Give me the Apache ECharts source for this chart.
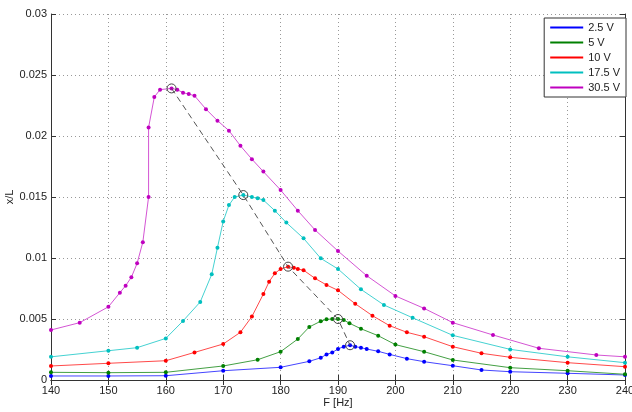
<!DOCTYPE html>
<html>
<head>
<meta charset="utf-8">
<script src="https://cdn.jsdelivr.net/npm/echarts@6/dist/echarts.min.js"></script>
<style>html,body{margin:0;padding:0;background:#fff;}#c{width:632px;height:412px;}</style>
</head>
<body>
<div id="c"></div>
<script>
var xTicks = [140, 150, 160, 170, 180, 190, 200, 210, 220, 230, 240];
var yTicks = [0, 0.005, 0.01, 0.015, 0.02, 0.025, 0.03];
var seriesNames = ['2.5 V', '5 V', '10 V', '17.5 V', '30.5 V'];

var f25 = [140, 150, 160, 170, 180, 185, 187, 188, 189, 190, 191, 192.1, 193, 194, 195, 197, 199, 202, 205, 210, 215, 220, 230, 240];
var v25 = [0.00033, 0.00033, 0.00035, 0.00076, 0.00104, 0.00153, 0.00182, 0.0021, 0.00225, 0.00255, 0.00273, 0.00285, 0.00273, 0.00265, 0.00254, 0.00235, 0.0021, 0.00175, 0.0015, 0.00117, 0.00082, 0.00068, 0.00055, 0.00041];

var f5 = [140, 150, 160, 170, 176, 180, 183, 185, 187, 188, 189, 190, 191, 192, 194, 197, 200, 205, 210, 220, 230, 240];
var v5 = [0.00063, 0.0006, 0.00063, 0.00115, 0.00166, 0.00232, 0.00336, 0.00435, 0.00482, 0.00497, 0.005, 0.005, 0.00492, 0.00465, 0.0042, 0.00363, 0.0029, 0.00232, 0.00164, 0.00101, 0.00076, 0.00047];

var f10 = [140, 150, 160, 165, 170, 173, 175, 177, 178, 179, 180, 181.3, 182.3, 183, 184, 186, 188, 190, 193, 196, 199, 202, 205, 210, 215, 220, 230, 240];
var v10 = [0.00115, 0.00137, 0.00158, 0.00226, 0.00295, 0.00391, 0.0052, 0.00705, 0.00806, 0.00874, 0.0091, 0.00929, 0.0092, 0.0091, 0.009, 0.00833, 0.00779, 0.00735, 0.00625, 0.00527, 0.00445, 0.00391, 0.00355, 0.00273, 0.00219, 0.00186, 0.00142, 0.00109];

var f175 = [140, 150, 155, 160, 163, 166, 168, 169, 170, 171, 172, 173.5, 175, 176, 177, 179, 181, 184, 187, 190, 194, 198, 203, 210, 220, 230, 240];
var v175 = [0.0019, 0.0024, 0.00265, 0.00341, 0.00484, 0.0064, 0.00866, 0.01085, 0.013, 0.01434, 0.015, 0.01516, 0.015, 0.01489, 0.01475, 0.01388, 0.0129, 0.01161, 0.00997, 0.0091, 0.00743, 0.00615, 0.0051, 0.00366, 0.00251, 0.0019, 0.00142];

var f305 = [140, 145, 150, 152, 153, 154, 155, 156, 157, 157, 158, 159, 161, 162, 163, 164, 165, 167, 169, 171, 173, 175, 177, 180, 183, 186, 190, 195, 200, 205, 210, 217, 225, 235, 240];
var v305 = [0.0041, 0.0047, 0.006, 0.00716, 0.00773, 0.00842, 0.00956, 0.0113, 0.015, 0.0207, 0.0232, 0.0238, 0.0239, 0.0238, 0.02355, 0.02344, 0.0233, 0.0222, 0.02126, 0.02044, 0.0192, 0.0181, 0.01708, 0.01557, 0.01388, 0.0123, 0.01057, 0.00855, 0.00689, 0.00587, 0.0047, 0.00369, 0.0026, 0.00205, 0.0019];

var peakF = [161, 173.5, 181.3, 190, 192.1];
var peakV = [0.0239, 0.01516, 0.00929, 0.005, 0.00285];

function zip(a, b) { return a.map(function (x, i) { return [x, b[i]]; }); }

var markerColors = ['#0000ff', '#008000', '#ff0000', '#00bfbf', '#bf00bf'];
var lineColors = ['#4545ff', '#44a044', '#ff4a4a', '#45d2d2', '#d455d4'];
var allF = [f25, f5, f10, f175, f305];
var allV = [v25, v5, v10, v175, v305];

var font = 'Liberation Sans, Arial, sans-serif';
var series = seriesNames.map(function (n, i) {
  return {
    name: n, type: 'line', data: zip(allF[i], allV[i]),
    symbol: 'circle', symbolSize: 4, showSymbol: true,
    itemStyle: { color: markerColors[i] },
    lineStyle: { color: lineColors[i], width: 1 },
    emphasis: { disabled: true }, z: 3
  };
});
series.push({
  name: 'peaks', type: 'line', data: zip(peakF, peakV),
  symbol: 'circle', symbolSize: 9,
  itemStyle: { color: 'rgba(0,0,0,0)', borderColor: '#444', borderWidth: 1 },
  lineStyle: { color: '#555', width: 1, type: [6, 4] },
  emphasis: { disabled: true }, z: 5
});

var axisCommon = {
  axisLine: { show: true, lineStyle: { color: '#333', width: 1 } },
  axisTick: { show: true, inside: true, length: 5, lineStyle: { color: '#333' } }
};

var chart = echarts.init(document.getElementById('c'), null, { renderer: 'canvas' });
chart.setOption({
  animation: false,
  backgroundColor: '#fff',
  grid: { left: 51, right: 7, top: 14, bottom: 32, containLabel: false, outerBoundsMode: 'none' },
  legend: {
    data: seriesNames, orient: 'vertical', right: 6, top: 18,
    icon: 'rect', itemWidth: 33, itemHeight: 2, itemGap: 4,
    padding: [4, 6, 4, 6],
    backgroundColor: '#fff', borderColor: '#333', borderWidth: 1, borderRadius: 0,
    textStyle: { fontFamily: font, fontSize: 11, color: '#222' },
    selectedMode: false
  },
  xAxis: [
    Object.assign({
      type: 'value', min: xTicks[0], max: xTicks[xTicks.length - 1], interval: 10,
      name: 'F [Hz]', nameLocation: 'middle', nameGap: 17, nameMoveOverlap: false,
      nameTextStyle: { fontFamily: font, fontSize: 11, color: '#222' },
      axisLabel: { margin: 5, fontFamily: font, fontSize: 11, color: '#222', showMaxLabel: true, showMinLabel: true },
      splitLine: { show: true, lineStyle: { color: '#999', width: 1, type: [1, 3] } }
    }, axisCommon),
    Object.assign({
      type: 'value', position: 'top', min: xTicks[0], max: xTicks[xTicks.length - 1], interval: 10,
      axisLabel: { show: false }, splitLine: { show: false }
    }, axisCommon)
  ],
  yAxis: [
    Object.assign({
      type: 'value', min: yTicks[0], max: yTicks[yTicks.length - 1], interval: 0.005,
      name: 'x/L', nameLocation: 'middle', nameGap: 36, nameMoveOverlap: false,
      nameTextStyle: { fontFamily: font, fontSize: 11, color: '#222' },
      axisLabel: { margin: 4, fontFamily: font, fontSize: 11, color: '#222',
        formatter: function (v) { return String(parseFloat(v.toFixed(4))); } },
      splitLine: { show: true, lineStyle: { color: '#999', width: 1, type: [1, 3] } }
    }, axisCommon),
    Object.assign({
      type: 'value', position: 'right', min: yTicks[0], max: yTicks[yTicks.length - 1], interval: 0.005,
      axisLabel: { show: false }, splitLine: { show: false }
    }, axisCommon)
  ],
  series: series
});
</script>
</body>
</html>
